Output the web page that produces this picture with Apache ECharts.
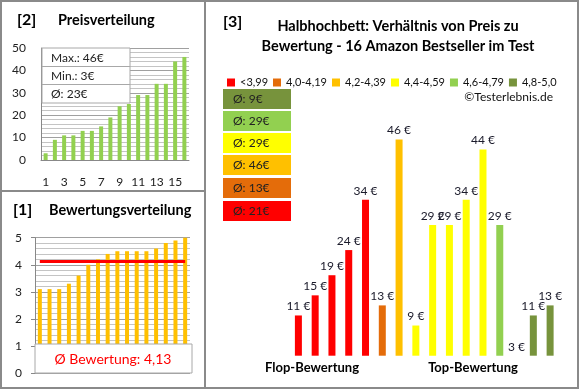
<!DOCTYPE html>
<html><head><meta charset="utf-8">
<script src="https://cdn.jsdelivr.net/npm/echarts@6/dist/echarts.min.js"></script>
<style>html,body{margin:0;padding:0;background:#fff}#c{width:580px;height:390px}</style>
</head><body><div id="c"></div><script>
// ---------- data ----------
const priceCats = ['1','2','3','4','5','6','7','8','9','10','11','12','13','14','15','16'];
const priceValues = [3, 9, 11, 11, 13, 13, 15, 19, 24, 25, 29, 29, 34, 34, 44, 46];
const priceStats = ['Max.: 46€', 'Min.: 3€', 'Ø: 23€'];

const ratingValues = [3.1, 3.1, 3.1, 3.3, 3.6, 4.0, 4.2, 4.4, 4.5, 4.5, 4.5, 4.5, 4.6, 4.8, 4.9, 5.0];
const ratingAverage = 4.13;
const ratingAvgText = 'Ø Bewertung: 4,13';

const groupNames = ['<3,99', '4,0-4,19', '4,2-4,39', '4,4-4,59', '4,6-4,79', '4,8-5,0'];
const groupColors = ['#FF0000', '#E46C0A', '#FFC000', '#FFFF00', '#92D050', '#77933C'];
const groupPrices = [[11, 15, 19, 24, 34], [13], [46], [9, 29, 29, 34, 44], [29], [3, 11, 13]];

const titleLines = ['Halbhochbett: Verhältnis von Preis zu', 'Bewertung - 16 Amazon Bestseller im Test'];

// ---------- build ----------
const FONT = 'Lato';
const chart = echarts.init(document.getElementById('c'));

const allCats = [];
const groupSeries = [];
let idx = 0;
groupPrices.forEach((arr, g) => {
  const d = new Array(16).fill(null);
  arr.forEach(v => { d[idx] = v; allCats.push(String(idx)); idx++; });
  groupSeries.push({
    name: groupNames[g], type: 'bar', xAxisIndex: 2, yAxisIndex: 2,
    data: d, barWidth: 7, barGap: '-100%',
    itemStyle: { color: groupColors[g] },
    label: { show: true, position: 'top', distance: 3, formatter: p => p.value + ' €',
      fontSize: 12, color: '#1a1a2a', fontFamily: FONT }
  });
});

const graphics = [];
const border = '#8a8a8a';
graphics.push({ type: 'rect', shape: { x: 1, y: 1, width: 577, height: 387 }, style: { fill: null, stroke: border, lineWidth: 2 }, z: 100 });
graphics.push({ type: 'line', shape: { x1: 205, y1: 1, x2: 205, y2: 388 }, style: { stroke: border, lineWidth: 2 }, z: 100 });
graphics.push({ type: 'line', shape: { x1: 1, y1: 191, x2: 205, y2: 191 }, style: { stroke: border, lineWidth: 2 }, z: 100 });

function txt(text, x, y, size, weight, align, color) {
  return { type: 'text', z: 101, style: { text, x, y, fontSize: size, fontWeight: weight, fontFamily: FONT,
    fill: color || '#000', textAlign: align || 'left', textVerticalAlign: 'middle', verticalAlign: 'middle' } };
}
// titles
graphics.push(txt('[2]', 17, 20, 16, 'bold'));
graphics.push(txt('Preisverteilung', 58, 20, 14.5, 'bold'));
graphics.push(txt('[1]', 13, 210, 16, 'bold'));
graphics.push(txt('Bewertungsverteilung', 49, 210, 14.5, 'bold'));
graphics.push(txt('[3]', 223, 22, 16, 'bold'));
graphics.push(txt(titleLines[0], 398, 26, 14.5, 'bold', 'center'));
graphics.push(txt(titleLines[1], 398, 46, 14.5, 'bold', 'center'));
graphics.push(txt('©Testerlebnis.de', 553, 97, 12, 'normal', 'right', '#111'));
graphics.push(txt('Flop-Bewertung', 312, 368, 13, 'bold', 'center'));
graphics.push(txt('Top-Bewertung', 473, 368, 13, 'bold', 'center'));

// price stats box
graphics.push({ type: 'rect', z: 100, shape: { x: 42, y: 48, width: 88, height: 55 }, style: { fill: '#fff', stroke: '#a8a8a8', lineWidth: 1 } });
graphics.push({ type: 'line', z: 100, shape: { x1: 42, y1: 66.5, x2: 130, y2: 66.5 }, style: { stroke: '#a8a8a8', lineWidth: 1 } });
graphics.push({ type: 'line', z: 100, shape: { x1: 42, y1: 84.5, x2: 130, y2: 84.5 }, style: { stroke: '#a8a8a8', lineWidth: 1 } });
priceStats.forEach((s, i) => graphics.push(txt(s, 51, 58 + i * 18, 12, 'normal', 'left', '#222')));

// rating avg box
graphics.push({ type: 'rect', z: 100, shape: { x: 35, y: 344, width: 157, height: 29 }, style: { fill: '#fff', stroke: '#a8a8a8', lineWidth: 1 } });
graphics.push(txt(ratingAvgText, 113, 359, 14, 'normal', 'center', '#FF0000'));

// group average boxes (reverse order)
const boxY = [89, 111, 133, 155, 178, 201];
for (let k = 0; k < 6; k++) {
  const g = 5 - k;
  const arr = groupPrices[g];
  const avg = Math.round(arr.reduce((a, b) => a + b, 0) / arr.length);
  graphics.push({ type: 'rect', z: 100, shape: { x: 223, y: boxY[k], width: 68, height: 20 }, style: { fill: groupColors[g] } });
  graphics.push(txt('Ø: ' + avg + '€', 233, boxY[k] + 10, 12, 'normal', 'left', '#222'));
}

const axisLabelStyle = { fontSize: 12, color: '#222', fontFamily: FONT };

const option = {
  animation: false,
  textStyle: { fontFamily: FONT },
  legend: {
    data: groupNames, left: 222, top: 72, width: 400, icon: 'rect', itemWidth: 8, itemHeight: 8, itemGap: 5,
    textStyle: { fontSize: 11, color: '#111', fontFamily: FONT }, selectedMode: false
  },
  grid: [
    { left: 41, top: 48, width: 148, height: 112 },
    { left: 35, top: 237.7, width: 155, height: 135.3 },
    { left: 290, top: 119.3, width: 268.5, height: 236.4 }
  ],
  xAxis: [
    { gridIndex: 0, type: 'category', data: priceCats,
      axisLine: { lineStyle: { color: '#888' } }, axisTick: { show: false },
      axisLabel: Object.assign({ interval: 1, margin: 16 }, axisLabelStyle) },
    { gridIndex: 1, type: 'category', data: priceCats,
      axisLine: { show: false }, axisTick: { show: false }, axisLabel: { show: false } },
    { gridIndex: 2, type: 'category', data: allCats, show: false }
  ],
  yAxis: [
    { gridIndex: 0, type: 'value', min: 0, max: 50, interval: 10,
      axisLine: { show: true, lineStyle: { color: '#888' } }, axisTick: { show: false },
      axisLabel: Object.assign({ margin: 15 }, axisLabelStyle),
      splitLine: { lineStyle: { color: '#a0a0a0' } },
      minorTick: { show: false, splitNumber: 5 }, minorSplitLine: { show: true, lineStyle: { color: '#c4c4c4' } } },
    { gridIndex: 1, type: 'value', min: 0, max: 5, interval: 1,
      axisLine: { show: true, lineStyle: { color: '#888' } }, axisTick: { show: true, length: 4, lineStyle: { color: '#888' } },
      axisLabel: Object.assign({ margin: 13 }, axisLabelStyle),
      splitLine: { lineStyle: { color: '#a0a0a0' } },
      minorTick: { show: false, splitNumber: 5 }, minorSplitLine: { show: true, lineStyle: { color: '#c4c4c4' } } },
    { gridIndex: 2, type: 'value', min: 3, max: 50, show: false, splitLine: { show: false } }
  ],
  series: [
    { type: 'bar', xAxisIndex: 0, yAxisIndex: 0, data: priceValues, barWidth: 4, itemStyle: { color: '#92D050' } },
    { type: 'bar', xAxisIndex: 1, yAxisIndex: 1, data: ratingValues, barWidth: 4, itemStyle: { color: '#FFC000' },
      markLine: { silent: true, symbol: 'none', label: { show: false },
        lineStyle: { color: '#FF0000', width: 3, type: 'solid' },
        data: [[{ xAxis: 0, yAxis: ratingAverage }, { xAxis: 15, yAxis: ratingAverage }]] } }
  ].concat(groupSeries),
  graphic: graphics
};
chart.setOption(option);
</script></body></html>
